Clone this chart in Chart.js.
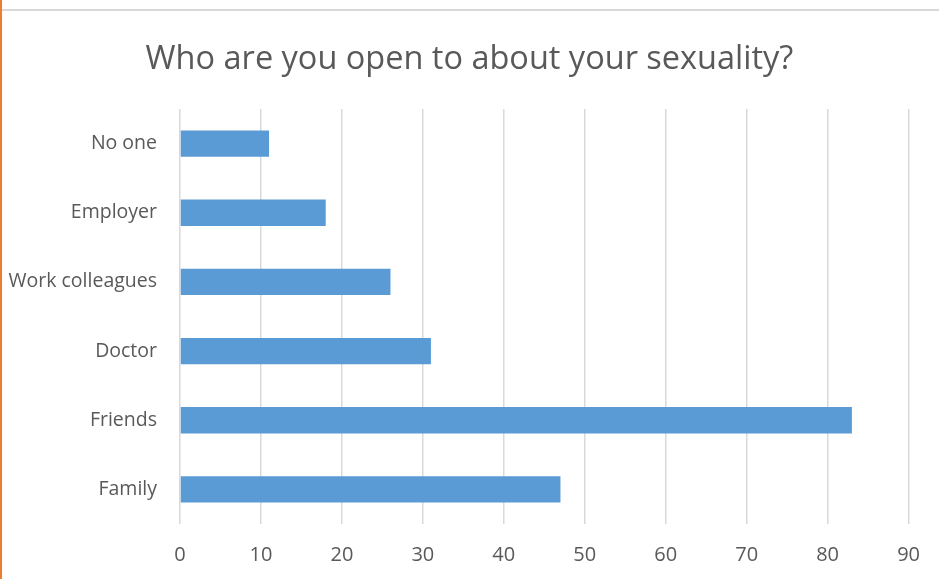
<!DOCTYPE html>
<html>
<head>
<meta charset="utf-8">
<script src="https://cdn.jsdelivr.net/npm/chart.js@4/dist/chart.umd.min.js"></script>
<style>
    html, body { margin: 0; padding: 0; background: #ffffff; }
    #wrap { position: relative; width: 939px; height: 579px; overflow: hidden; }
    #leftEdge { position: absolute; left: 0; top: 0; width: 2px; height: 579px; background: #ED7D31; }
    #topEdge { position: absolute; left: 2px; top: 9px; width: 937px; height: 2px; background: #D9D9D9; }
    #myBarChart { position: absolute; left: 0; top: 0; }
</style>
</head>
<body>
<div id="wrap">
    <div id="leftEdge"></div>
    <div id="topEdge"></div>
    <canvas id="myBarChart" width="939" height="579"></canvas>
</div>
<script>
var categories = ['No one', 'Employer', 'Work colleagues', 'Doctor', 'Friends', 'Family'];
var counts = [11, 18, 26, 31, 83, 47];
var tickValues = [0, 10, 20, 30, 40, 50, 60, 70, 80, 90];

// centre the title on the whole canvas, not on the padded box
var fullWidthTitle = {
    id: 'fullWidthTitle',
    afterLayout: function(chart) {
        if (chart.titleBlock) {
            chart.titleBlock.left = 0;
            chart.titleBlock.right = chart.width;
        }
    }
};

document.addEventListener('DOMContentLoaded', function() {
    var textColor = '#595959';
    var fontName = "'Open Sans', 'Noto Sans', sans-serif";

    var ctx = document.getElementById('myBarChart').getContext('2d');
    var myBarChart = new Chart(ctx, {
        type: 'bar',
        data: {
            labels: categories,
            datasets: [{
                label: 'Responses',
                data: counts,
                backgroundColor: '#5B9BD5',
                borderWidth: 0,
                categoryPercentage: 1,
                barPercentage: 0.38
            }]
        },
        plugins: [fullWidthTitle],
        options: {
            indexAxis: 'y',
            responsive: false,
            animation: false,
            layout: {
                padding: { left: 0, right: 29, top: 0, bottom: 12 }
            },
            plugins: {
                legend: { display: false },
                tooltip: { enabled: false },
                title: {
                    display: true,
                    text: 'Who are you open to about your sexuality?',
                    color: textColor,
                    font: { family: fontName, size: 32.5, weight: 'normal' },
                    padding: { top: 40, bottom: 30 }
                }
            },
            scales: {
                x: {
                    min: 0,
                    max: 90,
                    afterBuildTicks: function(scale) {
                        scale.ticks = tickValues.map(function(v) { return { value: v }; });
                    },
                    afterFit: function(scale) {
                        scale.height = 43;
                    },
                    grid: {
                        color: '#D9D9D9',
                        lineWidth: 1.5,
                        drawTicks: false
                    },
                    border: { display: false },
                    ticks: {
                        color: textColor,
                        padding: 19,
                        font: { family: fontName, size: 20 }
                    }
                },
                y: {
                    afterFit: function(scale) {
                        scale.width = 180;
                    },
                    grid: { display: false, drawTicks: false },
                    border: { display: false },
                    ticks: {
                        color: textColor,
                        padding: 23,
                        font: { family: fontName, size: 19.5 }
                    }
                }
            }
        }
    });
});
</script>
</body>
</html>
